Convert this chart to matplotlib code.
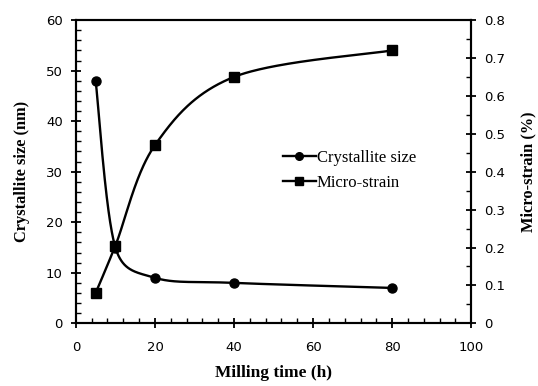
import numpy as np
import matplotlib
matplotlib.use("Agg")
import matplotlib.pyplot as plt
from matplotlib.ticker import MultipleLocator, FuncFormatter
from matplotlib.lines import Line2D

# Data
milling_time = [5, 10, 20, 40, 80]
crystallite_size = [48, 15, 9, 8, 7]
micro_strain = [0.08, 0.205, 0.47, 0.65, 0.72]

X_MAX, Y1_MAX, Y2_MAX = 100, 60, 0.8
AX_W_PX, AX_H_PX = 395.5, 303.0


def excel_smooth(xs, ys, xmax, ymax, n=80):
    # Excel-style smoothed line (Bezier with limited Catmull-Rom tangents), in pixel space
    p = np.column_stack([np.asarray(xs, float) / xmax * AX_W_PX,
                         np.asarray(ys, float) / ymax * AX_H_PX])
    p = np.vstack([p[0], p, p[-1]])
    t = np.linspace(0, 1, n)[:, None]
    out = []
    for i in range(1, len(p) - 2):
        p0, p1, p2, p3 = p[i - 1], p[i], p[i + 1], p[i + 2]
        d12 = np.linalg.norm(p2 - p1)
        d02 = np.linalg.norm(p2 - p0)
        d13 = np.linalg.norm(p3 - p1)
        f1 = 1 / 6 if d02 / 6 < d12 / 2 else d12 / (2 * d02)
        f2 = 1 / 6 if d13 / 6 < d12 / 2 else d12 / (2 * d13)
        c1 = p1 + (p2 - p0) * f1
        c2 = p2 - (p3 - p1) * f2
        seg = ((1 - t) ** 3) * p1 + 3 * ((1 - t) ** 2) * t * c1 + 3 * (1 - t) * t ** 2 * c2 + t ** 3 * p2
        out.append(seg)
    out = np.vstack(out)
    return out[:, 0] / AX_W_PX * xmax, out[:, 1] / AX_H_PX * ymax


fig = plt.figure(figsize=(5.38, 3.86), dpi=100)
ax = fig.add_axes([0.141, 0.1624, 0.735, 0.7856])
ax2 = ax.twinx()

sx, sy = excel_smooth(milling_time, crystallite_size, X_MAX, Y1_MAX)
ax.plot(sx, sy, color="black", lw=1.7, zorder=3)
ax.plot(milling_time, crystallite_size, "o", color="black", ms=6.5, zorder=4)

mx, my = excel_smooth(milling_time, micro_strain, X_MAX, Y2_MAX)
ax2.plot(mx, my, color="black", lw=1.7, zorder=3)
ax2.plot(milling_time, micro_strain, "s", color="black", ms=6.5, zorder=4)

ax.set_xlim(0, X_MAX)
ax.set_ylim(0, Y1_MAX)
ax2.set_ylim(0, Y2_MAX)

fmt = FuncFormatter(lambda v, p: "%g" % round(v, 3))
ax.xaxis.set_major_locator(MultipleLocator(20))
ax.xaxis.set_minor_locator(MultipleLocator(4))
ax.yaxis.set_major_locator(MultipleLocator(10))
ax.yaxis.set_minor_locator(MultipleLocator(2))
ax2.yaxis.set_major_locator(MultipleLocator(0.1))
ax2.yaxis.set_minor_locator(MultipleLocator(0.05))
ax2.yaxis.set_major_formatter(fmt)
ax.xaxis.set_major_formatter(fmt)
ax.yaxis.set_major_formatter(fmt)

for a in (ax, ax2):
    for s in a.spines.values():
        s.set_linewidth(1.5)
ax.tick_params(axis="both", which="major", direction="inout", length=7, width=1.3,
               labelsize=9.5, pad=6, colors="black")
ax.tick_params(axis="x", which="major", pad=9)
ax.tick_params(axis="both", which="minor", direction="in", length=3.5, width=1.0)
ax.tick_params(axis="y", which="both", right=False)
ax.tick_params(axis="x", which="both", top=False)
ax2.tick_params(axis="y", which="major", direction="inout", length=7, width=1.3,
                labelsize=9.5, pad=6)
ax2.tick_params(axis="y", which="minor", direction="in", length=3.5, width=1.0)

serif = ["Liberation Serif", "DejaVu Serif"]
ax.set_xlabel("Milling time (h)", fontsize=12.5, fontweight="bold", family=serif, va="center")
ax.xaxis.set_label_coords(0.5, -(373 - 323.3) / AX_H_PX)
ax.set_ylabel("Crystallite size (nm)", fontsize=11.8, fontweight="bold", family=serif, va="center")
ax.yaxis.set_label_coords(-(76 - 22) / AX_W_PX, 0.5)
ax2.set_ylabel("Micro-strain (%)", fontsize=11.8, fontweight="bold", family=serif, va="center")
ax2.yaxis.set_label_coords(1 + (529 - 471.5) / AX_W_PX, 0.5)

handles = [Line2D([], [], color="black", lw=1.7, marker="o", ms=5.5),
           Line2D([], [], color="black", lw=1.7, marker="s", ms=5.5)]
leg = ax2.legend(handles, ["Crystallite size", "Micro-strain"], loc="center left",
                 bbox_to_anchor=((283 - 76) / AX_W_PX, (323.3 - 170.5) / AX_H_PX),
                 frameon=False, handlelength=2.0, borderpad=0,
                 handletextpad=0.05, labelspacing=0.5, borderaxespad=0,
                 prop={"family": serif, "size": 12})

fig.savefig("out.png", dpi=100)
